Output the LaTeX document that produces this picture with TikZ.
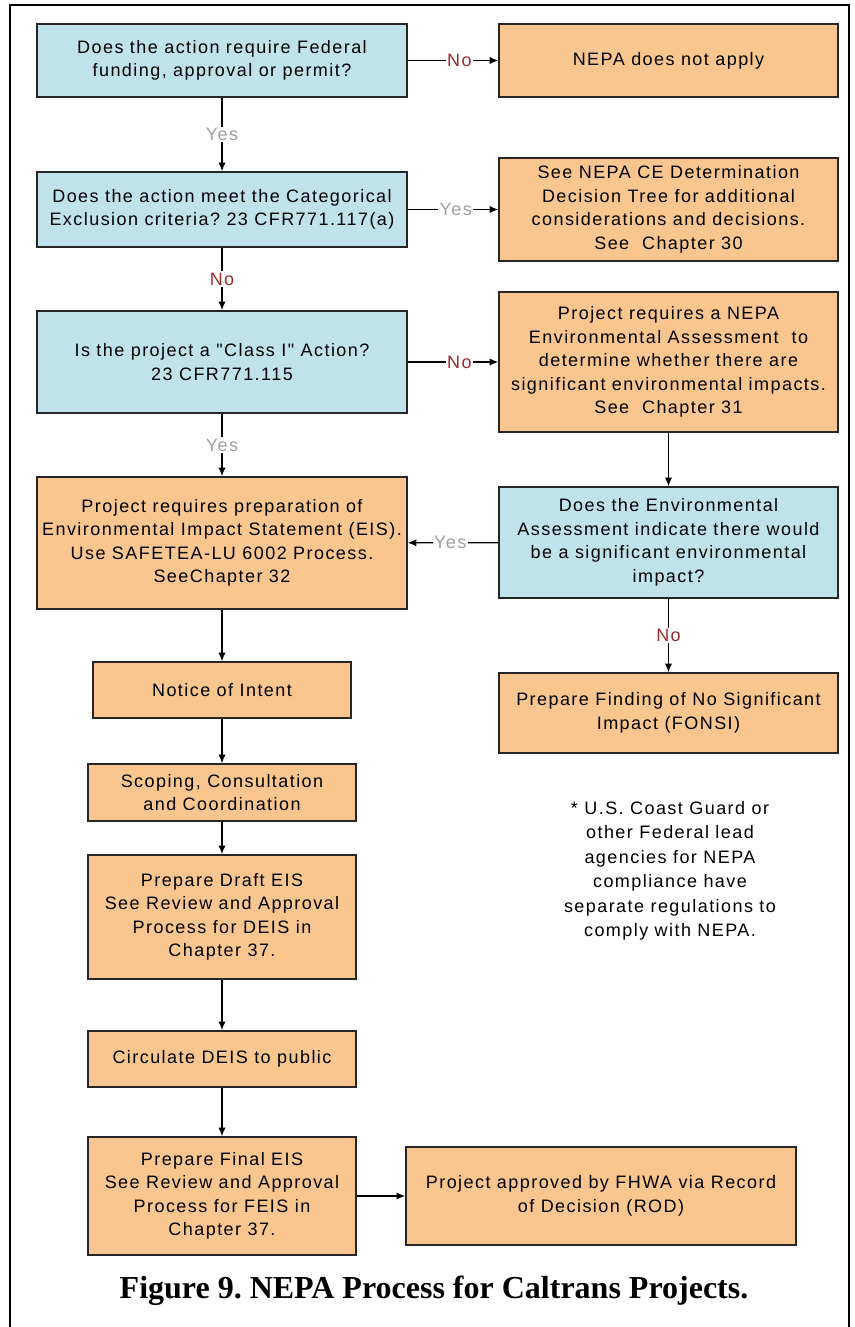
\documentclass[tikz,border=0pt]{standalone}
\usepackage{fontspec}
\setmainfont{Liberation Sans}
\newfontfamily\boxfont{Liberation Sans}[LetterSpace=8]
\newfontfamily\capfont{Liberation Serif}
\usetikzlibrary{arrows.meta}
\definecolor{qblue}{HTML}{C0E2EA}
\definecolor{porange}{HTML}{F8C68E}
\definecolor{nored}{HTML}{9B2C2C}
\definecolor{yesgrey}{HTML}{A0A0A0}
\frenchspacing
\begin{document}
\begin{tikzpicture}[x=0.75pt,y=-0.75pt,
  base/.style={draw=black!85, line width=1.1pt, align=center, inner sep=0pt,
     font=\boxfont\fontsize{13.5}{17.6}\selectfont},
  sz/.style 2 args={minimum width=#1*0.75pt, minimum height=#2*0.75pt},
  qbox/.style={base, fill=qblue},
  abox/.style={base, fill=porange},
  conn/.style={line width=1pt, -{Latex[length=6.5pt,width=5.5pt]}},
  lbl/.style={fill=white, inner sep=1pt, font=\boxfont\fontsize{13.5}{16}\selectfont},
  lno/.style={lbl, text=nored},
  lyes/.style={lbl, text=yesgrey}]
\useasboundingbox (0,0) rectangle (854,1327);
\draw[line width=1.1pt] (10,1335) -- (10,5) -- (849,5) -- (849,1335);

% left column
\node[qbox, sz={370}{73}] (b1) at (222,60.5) {Does the action require Federal\\funding, approval or permit?};
\node[qbox, sz={370}{75}] (b2) at (222,209.5) {Does the action meet the Categorical\\Exclusion criteria? 23 CFR771.117(a)};
\node[qbox, sz={370}{102}] (b3) at (222,362) {Is the project a "Class I" Action?\\23 CFR771.115};
\node[abox, sz={370}{132}] (eis) at (222,543) {Project requires preparation of\\Environmental Impact Statement (EIS).\\Use SAFETEA-LU 6002 Process.\\SeeChapter 32};
\node[abox, sz={258}{56}] (noi) at (222,690) {Notice of Intent};
\node[abox, sz={268}{57}] (scop) at (222,792.5) {Scoping, Consultation\\and Coordination};
\node[abox, sz={268}{124}] (draft) at (222,917) {Prepare Draft EIS\\See Review and Approval\\Process for DEIS in\\Chapter 37.};
\node[abox, sz={268}{56}] (circ) at (222,1059) {Circulate DEIS to public};
\node[abox, sz={268}{118}] (final) at (222,1196) {Prepare Final EIS\\See Review and Approval\\Process for FEIS in\\Chapter 37.};
\node[abox, sz={390}{98}] (rod) at (601,1196) {Project approved by FHWA via Record\\of Decision (ROD)};

% right column
\node[abox, sz={339}{73}] (nepa) at (668.5,60.5) {NEPA does not apply};
\node[abox, sz={339}{103}] (ce) at (668.5,209.5) {See NEPA CE Determination\\Decision Tree for additional\\considerations and decisions.\\See\ \ Chapter 30};
\node[abox, sz={339}{140}] (ea) at (668.5,362) {Project requires a NEPA\\Environmental Assessment\ \ to\\determine whether there are\\significant environmental impacts.\\See\ \ Chapter 31};
\node[qbox, sz={339}{111}] (eaq) at (668.5,542.5) {Does the Environmental\\Assessment indicate there would\\be a significant environmental\\impact?};
\node[abox, sz={339}{80}] (fonsi) at (668.5,713) {Prepare Finding of No Significant\\Impact (FONSI)};

\node[align=center, inner sep=0pt, font=\boxfont\fontsize{13.5}{18.4}\selectfont] (note) at (670,871) {* U.S. Coast Guard or\\other Federal lead\\agencies for NEPA\\compliance have\\separate regulations to\\comply with NEPA.};

\node[anchor=base, inner sep=0pt, font=\capfont\bfseries\fontsize{24}{28}\selectfont] (cap) at (434,1298) {Figure 9. NEPA Process for Caltrans Projects.};

% connectors
\draw[conn] (b1) -- node[lno, pos=0.57] {No} (nepa);
\draw[conn] (b1) -- node[lyes] {Yes} (b2);
\draw[conn] (b2) -- node[lyes, pos=0.53] {Yes} (ce);
\draw[conn] (b2) -- node[lno] {No} (b3);
\draw[conn] (b3) -- node[lno, pos=0.57] {No} (ea);
\draw[conn] (b3) -- node[lyes] {Yes} (eis);
\draw[conn] (ea) -- (eaq);
\draw[conn] (eaq) -- node[lyes, pos=0.53] {Yes} (eis);
\draw[conn] (eaq) -- node[lno] {No} (fonsi);
\draw[conn] (eis) -- (noi);
\draw[conn] (noi) -- (scop);
\draw[conn] (scop) -- (draft);
\draw[conn] (draft) -- (circ);
\draw[conn] (circ) -- (final);
\draw[conn] (final) -- (rod);
\end{tikzpicture}
\end{document}
